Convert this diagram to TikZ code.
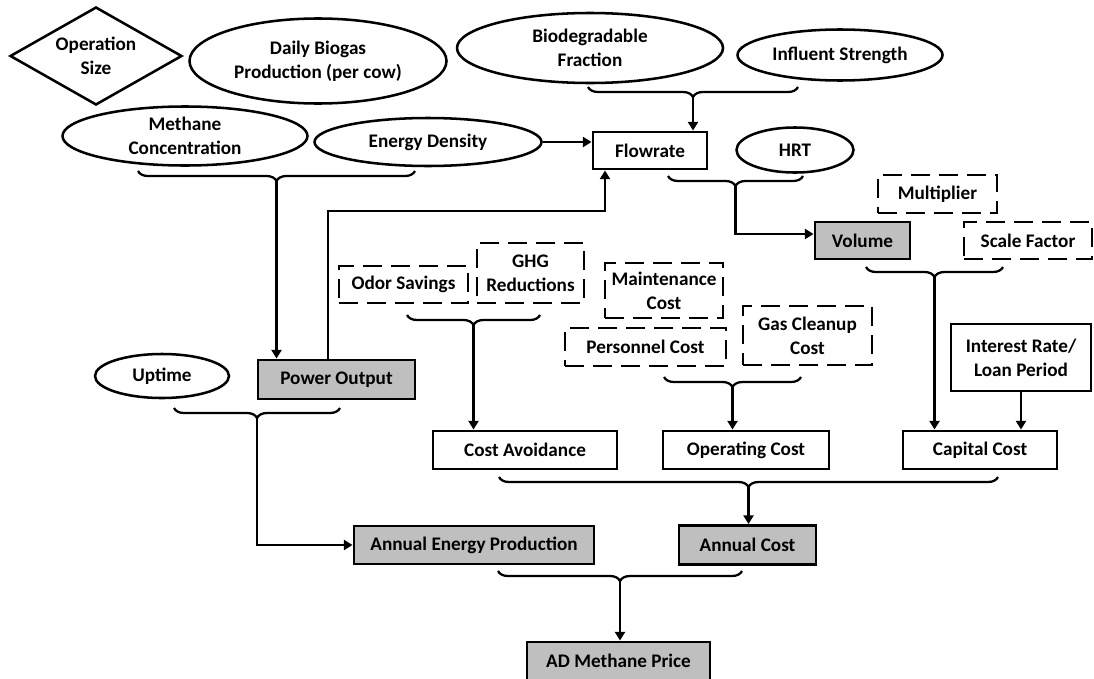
\documentclass[tikz,border=0pt]{standalone}
\usepackage{fontspec}
\setmainfont{Carlito}
\usetikzlibrary{shapes.geometric,arrows.meta,decorations.pathreplacing}
\definecolor{boxgray}{RGB}{191,191,191}
\begin{document}
\begin{tikzpicture}[x=0.75pt,y=-0.75pt,
  every node/.style={font=\fontsize{14.4}{18}\selectfont\bfseries, align=center, inner sep=0pt},
  wh/.style 2 args={minimum width=#1, minimum height=#2},
  solidbox/.style={draw, rectangle, line width=2.2pt},
  graybox/.style={solidbox, fill=boxgray},
  dashbox/.style={draw, rectangle, line width=2.2pt, dash pattern=on 14pt off 7pt},
  oval/.style={draw, ellipse, line width=1.9pt},
  dia/.style={draw, diamond, line width=1.9pt, aspect=1.75},
  arr/.style={line width=2.2pt, -{Triangle[width=7.5pt,length=6.5pt]}},
  cbrace/.style={line width=1.7pt, decorate, decoration={brace, mirror, amplitude=7.5pt}}
]
\useasboundingbox (0,0) rectangle (1094,678);
\clip (0,0) rectangle (1094,678);
\fill[white] (0,0) rectangle (1094,678);

% nodes
\node[dia, wh={129pt}{73.5pt}] (opsize) at (96,56) {Operation\\Size};
\node[oval, wh={192.75pt}{63.75pt}] (biogas) at (318,61) {Daily Biogas\\Production (per cow)};
\node[oval, wh={199.5pt}{52.5pt}] (biodeg) at (590,48) {Biodegradable\\Fraction};
\node[oval, wh={153.75pt}{38.25pt}] (influent) at (840,55) {Influent Strength};
\node[oval, wh={183.75pt}{44.25pt}] (methane) at (185,136) {Methane\\Concentration};
\node[oval, wh={170.25pt}{36pt}] (energy) at (428,142) {Energy Density};
\node[solidbox, wh={85.5pt}{27.75pt}] (flow) at (650,150.5) {Flowrate};
\node[oval, wh={87.75pt}{33.75pt}] (hrt) at (795,150) {HRT};
\node[dashbox, wh={89.25pt}{28.5pt}] (mult) at (937.5,194) {Multiplier};
\node[graybox, wh={71.25pt}{27.75pt}] (volume) at (862.5,240.5) {Volume};
\node[dashbox, wh={96pt}{27.75pt}] (scale) at (1028,240.5) {Scale Factor};
\node[dashbox, wh={96.75pt}{27.75pt}] (odor) at (403.5,284.5) {Odor Savings};
\node[dashbox, wh={80.25pt}{45pt}] (ghg) at (530.5,273) {GHG\\Reductions};
\node[dashbox, wh={88.5pt}{41.25pt}] (maint) at (664,290.5) {Maintenance\\Cost};
\node[dashbox, wh={120.75pt}{28.5pt}] (personnel) at (645.5,347) {Personnel Cost};
\node[dashbox, wh={96.75pt}{44.25pt}] (gas) at (807.5,335.5) {Gas Cleanup\\Cost};
\node[solidbox, wh={105pt}{50.25pt}] (interest) at (1021,357.5) {Interest Rate/\\Loan Period};
\node[oval, wh={100.5pt}{33pt}] (uptime) at (162,376) {Uptime};
\node[graybox, wh={117.75pt}{29.25pt}] (power) at (336.5,379.5) {Power Output};
\node[solidbox, wh={138pt}{28.5pt}] (costav) at (525,450) {Cost Avoidance};
\node[solidbox, wh={124.5pt}{28.5pt}] (opcost) at (746,450) {Operating Cost};
\node[solidbox, wh={115.5pt}{28.5pt}] (capital) at (980,450) {Capital Cost};
\node[graybox, wh={180pt}{28.5pt}] (aep) at (474,545) {Annual Energy Production};
\node[graybox, wh={102.75pt}{29.25pt}] (annual) at (747.5,545) {Annual Cost};
\node[graybox, wh={137.25pt}{28.5pt}] (adprice) at (618.5,661) {AD Methane Price};

% braces
\coordinate (bMethL) at (138,171); \coordinate (bMethR) at (415,171); \coordinate (tMeth) at (276.5,181);
\coordinate (bBioL) at (588,87);   \coordinate (bBioR) at (798,87);   \coordinate (tBio) at (693,97);
\coordinate (bHRTL) at (668,176);  \coordinate (bHRTR) at (803,176);  \coordinate (tHRT) at (735.5,186);
\coordinate (bVolL) at (866,267);  \coordinate (bVolR) at (1003,267); \coordinate (tVol) at (934.5,277);
\coordinate (bOdorL) at (407,315); \coordinate (bOdorR) at (540,315); \coordinate (tOdor) at (473.5,325);
\coordinate (bGasL) at (664,377);  \coordinate (bGasR) at (801,377);  \coordinate (tGas) at (732.5,387);
\coordinate (bUpL) at (174,408);   \coordinate (bUpR) at (340,408);   \coordinate (tUp) at (257,418);
\coordinate (bBigL) at (499,477);  \coordinate (bBigR) at (998,477);  \coordinate (tBig) at (748.5,487);
\coordinate (bBotL) at (498,571);  \coordinate (bBotR) at (742,571);  \coordinate (tBot) at (620,581);

\draw[cbrace] (bMethL) -- (bMethR);
\draw[cbrace] (bBioL) -- (bBioR);
\draw[cbrace] (bHRTL) -- (bHRTR);
\draw[cbrace] (bVolL) -- (bVolR);
\draw[cbrace] (bOdorL) -- (bOdorR);
\draw[cbrace] (bGasL) -- (bGasR);
\draw[cbrace] (bUpL) -- (bUpR);
\draw[cbrace] (bBigL) -- (bBigR);
\draw[cbrace] (bBotL) -- (bBotR);

% connectors
\draw[arr] (tMeth) -- (tMeth |- power.north);
\draw[arr] (tBio) -- (tBio |- flow.north);
\draw[arr] (energy.east) -- (energy.east -| flow.west);
\coordinate (pUp) at (328,211); \coordinate (pIn) at (605,211);
\draw[arr] (pUp |- power.north) -- (pUp) -- (pIn) -- (pIn |- flow.south);
\coordinate (hv) at (735.5,234);
\draw[arr] (tHRT) -- (hv) -- (hv -| volume.west);
\draw[arr] (tVol) -- (tVol |- capital.north);
\draw[arr] (interest.south) -- (interest.south |- capital.north);
\draw[arr] (tOdor) -- (tOdor |- costav.north);
\draw[arr] (tGas) -- (tGas |- opcost.north);
\coordinate (ua) at (257,545);
\draw[arr] (tUp) -- (ua) -- (ua -| aep.west);
\draw[arr] (tBig) -- (tBig |- annual.north);
\draw[arr] (tBot) -- (tBot |- adprice.north);
\end{tikzpicture}
\end{document}
